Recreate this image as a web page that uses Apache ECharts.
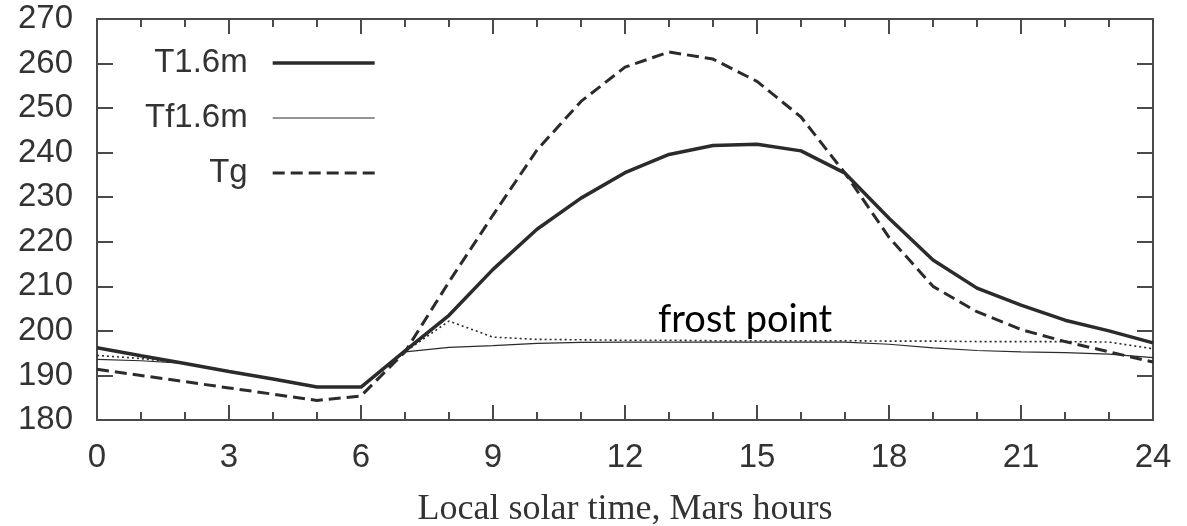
<!DOCTYPE html>
<html>
<head>
<meta charset="utf-8">
<script src="https://cdn.jsdelivr.net/npm/echarts@6/dist/echarts.min.js"></script>
<style>
html,body{margin:0;padding:0;background:#fff;}
#chart{width:1187px;height:526px;}
</style>
</head>
<body>
<div id="chart"></div>
<script>
// ---- data ----
const hours = [0,1,2,3,4,5,6,7,8,9,10,11,12,13,14,15,16,17,18,19,20,21,22,23,24];
const T16m  = [196.2,194.4,192.7,190.9,189.2,187.4,187.4,195.5,203.5,213.8,222.8,229.8,235.5,239.6,241.6,241.9,240.4,235.4,225.3,215.9,209.6,205.8,202.4,200.0,197.3];
const Tf16m = [193.6,193.3,192.7,190.9,189.2,187.4,187.4,195.3,196.3,196.7,197.2,197.4,197.5,197.5,197.5,197.5,197.5,197.5,197.0,196.2,195.6,195.3,195.1,194.8,194.0];
const Tg    = [191.4,190.0,188.6,187.2,185.8,184.4,185.4,195.3,211.0,226.0,240.6,251.5,259.2,262.6,261.0,256.0,248.0,235.4,221.0,210.0,204.3,200.3,197.6,195.3,193.0];
const Tfrost= [194.5,193.8,192.7,190.9,189.2,187.4,187.4,195.3,202.2,198.6,198.1,198.0,197.9,197.9,197.8,197.8,197.8,197.8,197.7,197.7,197.6,197.6,197.6,197.5,196.0];
const seriesNames = ['T1.6m','Tf1.6m','Tg'];
const frostLabel = 'frost point';
const frostLabelAt = [14.73, 202.4];
const xTicks = {min:0, max:24, interval:3};
const yTicks = {min:180, max:270, interval:10};
const xTitle = 'Local solar time, Mars hours';

const pairs = arr => hours.map((h,i)=>[h, arr[i]]);
const ink = '#2b2b2b';
const axisColor = '#4a4a4a';
const labelFont = 'Liberation Sans';

const styles = [
  {width:3.5, type:'solid'},
  {width:1.2, type:'solid'},
  {width:3, type:[12,6]}
];

function xAxisCfg(pos, showLabel){
  return {
    type:'value', position:pos, min:xTicks.min, max:xTicks.max, interval:xTicks.interval,
    axisLine:{show:true, onZero:false, lineStyle:{color:axisColor, width:2}},
    axisTick:{show:true, inside:true, length:15, lineStyle:{color:axisColor, width:2}},
    minorTick:{show:true, splitNumber:3, length:8, lineStyle:{color:axisColor, width:2}},
    splitLine:{show:false}, minorSplitLine:{show:false},
    axisLabel:{show:showLabel, fontSize:33, fontFamily:labelFont, color:'#333', margin:21},
    name: showLabel ? xTitle : '',
    nameLocation:'middle', nameGap:72,
    nameTextStyle:{fontFamily:'Liberation Serif', fontSize:36, color:'#333'}
  };
}
function yAxisCfg(pos, showLabel){
  return {
    type:'value', position:pos, min:yTicks.min, max:yTicks.max, interval:yTicks.interval,
    axisLine:{show:true, onZero:false, lineStyle:{color:axisColor, width:2}},
    axisTick:{show:true, inside:true, length:16, lineStyle:{color:axisColor, width:2}},
    splitLine:{show:false},
    axisLabel:{show:showLabel, fontSize:33, fontFamily:labelFont, color:'#333', margin:24}
  };
}

const chart = echarts.init(document.getElementById('chart'), null, {renderer:'canvas'});
chart.setOption({
  backgroundColor:'#fff',
  animation:false,
  grid:{left:97, right:34, top:19, bottom:106, containLabel:false, outerBoundsMode:'none'},
  xAxis:[xAxisCfg('bottom', true), xAxisCfg('top', false)],
  yAxis:[yAxisCfg('left', true), yAxisCfg('right', false)],
  legend:{
    data:seriesNames.map((n,i)=>({name:n, lineStyle:{width:styles[i].width, type:styles[i].type, color:ink}})),
    orient:'vertical', align:'right',
    left:140, top:40, itemWidth:102, itemHeight:14, itemGap:19,
    itemStyle:{opacity:0, borderWidth:0},
    textStyle:{fontSize:33, fontFamily:labelFont, color:'#333', lineHeight:36, padding:[0,20,0,0]},
    selectedMode:false
  },
  series:[
    {name:seriesNames[0], type:'line', data:pairs(T16m), showSymbol:false, symbol:'none',
     lineStyle:{color:ink, width:styles[0].width}, itemStyle:{color:ink}, z:5},
    {name:seriesNames[1], type:'line', data:pairs(Tf16m), showSymbol:false, symbol:'none',
     lineStyle:{color:ink, width:styles[1].width}, itemStyle:{color:ink}, z:4},
    {name:seriesNames[2], type:'line', data:pairs(Tg), showSymbol:false, symbol:'none',
     lineStyle:{color:ink, width:styles[2].width, type:styles[2].type}, itemStyle:{color:ink}, z:4},
    {name:'frost', type:'line', data:pairs(Tfrost), showSymbol:false, symbol:'none',
     lineStyle:{color:ink, width:1.6, type:[2,3]}, itemStyle:{color:ink}, z:3,
     markPoint:{silent:true, symbol:'rect', symbolSize:1, itemStyle:{color:'rgba(0,0,0,0)'},
       data:[{coord:frostLabelAt, value:frostLabel}],
       label:{show:true, position:'inside', formatter:frostLabel, fontFamily:'Lato', fontSize:38, color:'#000'}}}
  ]
});
</script>
</body>
</html>
